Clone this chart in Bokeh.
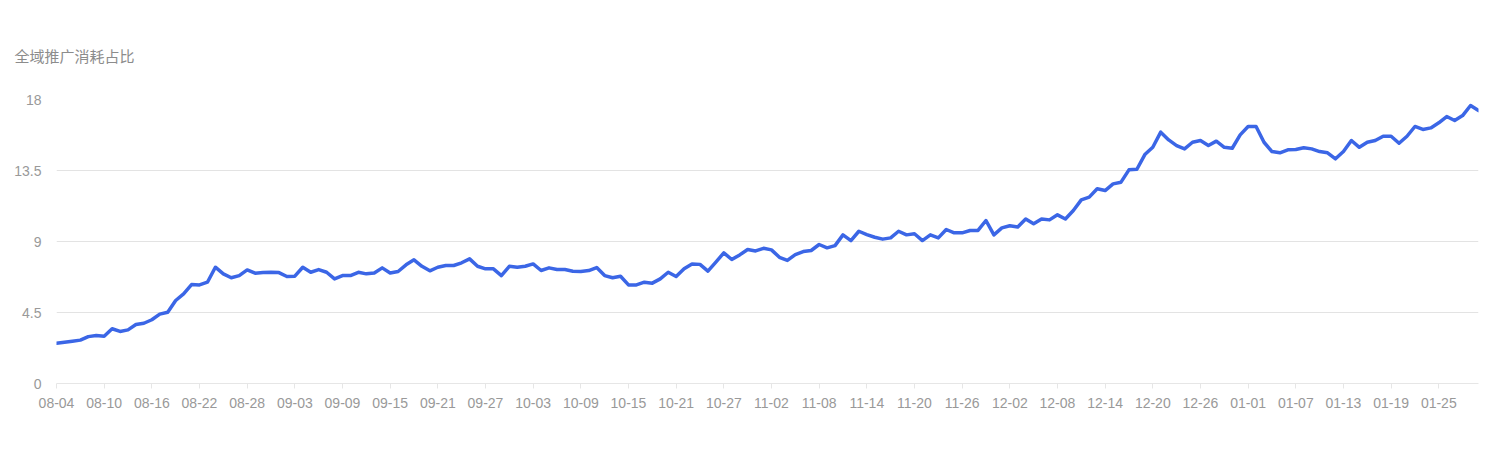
import pandas as pd
from bokeh.plotting import figure
from bokeh.models import ColumnDataSource, FixedTicker, Range1d
from bokeh.embed import file_html
from bokeh.resources import INLINE

# ---- data ----
title_text = "全域推广消耗占比"
dates = [d.strftime("%m-%d") for d in pd.date_range("2023-08-04", "2024-01-30", freq="D")]
share = [
    2.55, 2.62, 2.68, 2.75, 2.97, 3.04, 3.00, 3.47, 3.30, 3.40,
    3.74, 3.82, 4.04, 4.40, 4.52, 5.26, 5.68, 6.27, 6.25, 6.42,
    7.37, 6.95, 6.70, 6.84, 7.20, 6.99, 7.03, 7.05, 7.03, 6.78,
    6.80, 7.37, 7.05, 7.22, 7.05, 6.63, 6.84, 6.84, 7.05, 6.95,
    7.00, 7.33, 7.00, 7.10, 7.52, 7.84, 7.43, 7.14, 7.37, 7.48,
    7.48, 7.65, 7.90, 7.43, 7.27, 7.27, 6.84, 7.43, 7.37, 7.43,
    7.58, 7.16, 7.33, 7.22, 7.22, 7.12, 7.10, 7.16, 7.35, 6.84,
    6.70, 6.80, 6.25, 6.25, 6.42, 6.36, 6.63, 7.05, 6.78, 7.27,
    7.58, 7.55, 7.12, 7.69, 8.28, 7.86, 8.15, 8.49, 8.40, 8.57,
    8.47, 8.00, 7.80, 8.17, 8.36, 8.43, 8.81, 8.60, 8.74, 9.42,
    9.06, 9.65, 9.44, 9.27, 9.15, 9.23, 9.65, 9.42, 9.49, 9.06,
    9.42, 9.23, 9.76, 9.55, 9.55, 9.70, 9.70, 10.33, 9.42, 9.86,
    10.00, 9.92, 10.43, 10.12, 10.43, 10.37, 10.69, 10.43, 10.96, 11.64,
    11.81, 12.34, 12.23, 12.65, 12.76, 13.54, 13.58, 14.51, 14.97, 15.93,
    15.44, 15.08, 14.87, 15.29, 15.40, 15.08, 15.36, 14.97, 14.91, 15.76,
    16.29, 16.29, 15.29, 14.70, 14.62, 14.81, 14.83, 14.94, 14.87, 14.70,
    14.62, 14.24, 14.70, 15.40, 14.97, 15.29, 15.40, 15.67, 15.67, 15.23,
    15.67, 16.29, 16.10, 16.20, 16.52, 16.92, 16.67, 16.98, 17.62, 17.30,
]
y_ticks = [0, 4.5, 9, 13.5, 18]
y_tick_labels = ["0", "4.5", "9", "13.5", "18"]

idx = list(range(len(dates)))
src = ColumnDataSource(dict(x=idx, y=share, d=dates))

W, H = 1490, 445
p = figure(width=W, height=H, output_backend="svg", toolbar_location=None,
           x_range=Range1d(0, len(dates) - 1), y_range=Range1d(0, 18),
           min_border_left=56, min_border_right=12, min_border_top=99,
           min_border_bottom=H - 383, title=title_text)
p.outline_line_color = None
p.background_fill_color = "white"
p.border_fill_color = "white"

p.title.align = "left"
p.title.offset = -42
p.title.standoff = 68
p.title.text_font = "Noto Sans CJK SC"
p.title.text_font_size = "15px"
p.title.text_font_style = "normal"
p.title.text_color = "#8c8c8c"

p.line("x", "y", source=src, line_color="#3b66e6", line_width=3.5,
       line_join="round", line_cap="round")

# x axis
x_tick_pos = idx[::6]
p.xaxis.ticker = FixedTicker(ticks=x_tick_pos)
p.xaxis.major_label_overrides = {i: dates[i] for i in x_tick_pos}
p.xaxis.axis_line_color = "#e6e6e6"
p.xaxis.major_tick_line_color = "#e6e6e6"
p.xaxis.major_tick_in = 0
p.xaxis.major_tick_out = 5
p.xaxis.minor_tick_line_color = None
p.xaxis.major_label_standoff = 9
p.xaxis.major_label_text_font = "Liberation Sans"
p.xaxis.major_label_text_font_size = "14px"
p.xaxis.major_label_text_color = "#999999"

# y axis
p.yaxis.ticker = FixedTicker(ticks=y_ticks)
p.yaxis.major_label_overrides = dict(zip(y_ticks, y_tick_labels))
p.yaxis.axis_line_color = None
p.yaxis.major_tick_line_color = None
p.yaxis.minor_tick_line_color = None
p.yaxis.major_tick_in = 0
p.yaxis.major_tick_out = 0
p.yaxis.major_label_standoff = 15
p.yaxis.major_label_text_font = "Liberation Sans"
p.yaxis.major_label_text_font_size = "14px"
p.yaxis.major_label_text_color = "#999999"

p.xgrid.grid_line_color = None
p.ygrid.grid_line_color = "#e3e3e3"
p.ygrid.grid_line_width = 1

open("out.html", "w").write(file_html(p, INLINE))
